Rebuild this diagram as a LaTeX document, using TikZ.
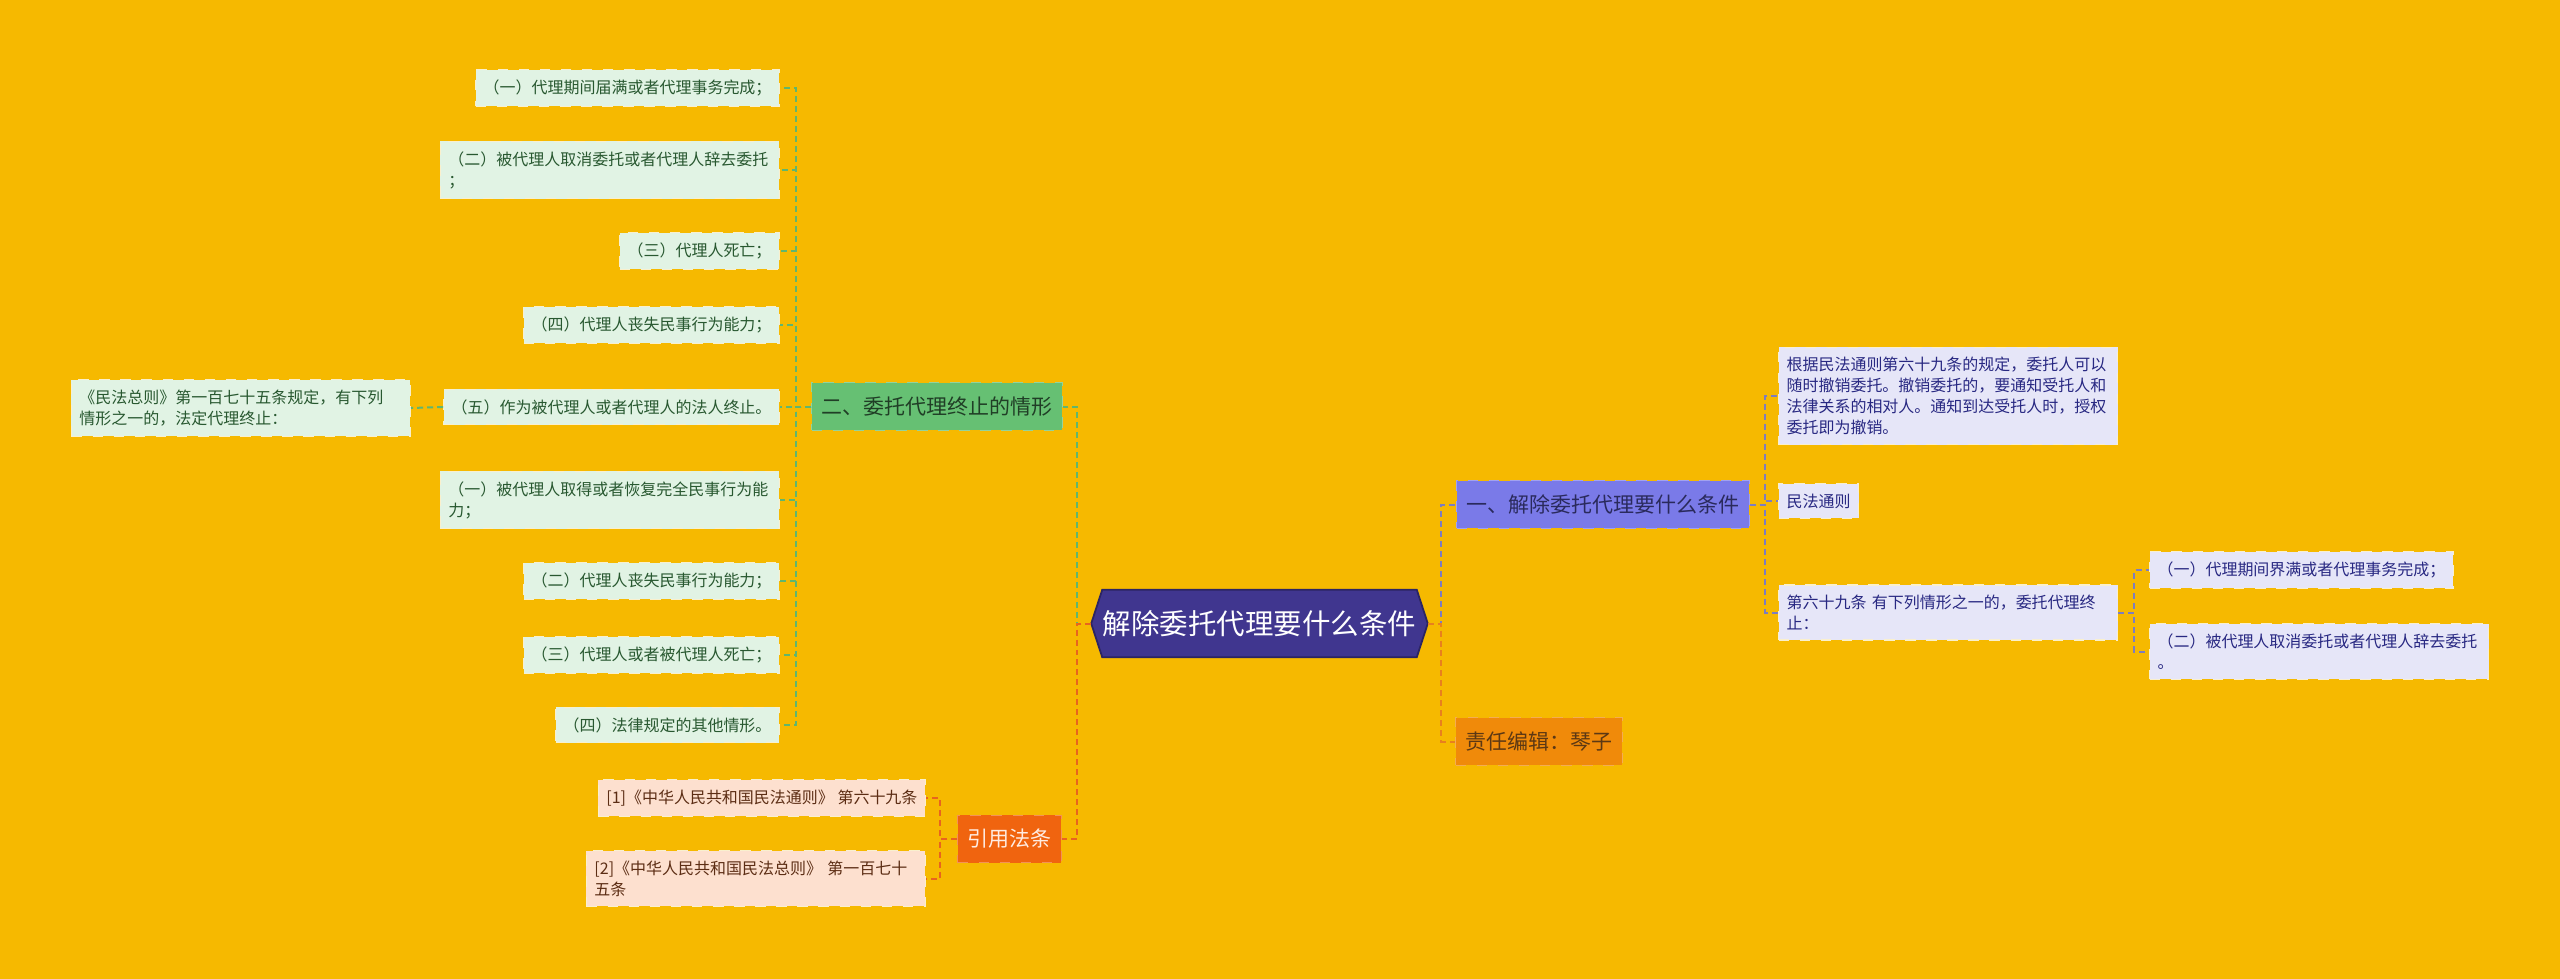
\documentclass[tikz,border=0pt]{standalone}
\usepackage{fontspec}
\setmainfont{Noto Sans CJK SC}
\usetikzlibrary{backgrounds}
\definecolor{bgyellow}{RGB}{246,185,0}
\definecolor{rootfill}{RGB}{64,54,143}
\definecolor{rootline}{RGB}{44,37,98}
\definecolor{grnfill}{RGB}{102,192,115}
\definecolor{grntext}{RGB}{32,62,38}
\definecolor{grnleaf}{RGB}{225,243,228}
\definecolor{grnleaftext}{RGB}{40,88,48}
\definecolor{grnline}{RGB}{95,182,110}
\definecolor{blufill}{RGB}{122,122,232}
\definecolor{blutext}{RGB}{42,42,92}
\definecolor{bluleaf}{RGB}{230,230,248}
\definecolor{bluleaftext}{RGB}{40,40,130}
\definecolor{bluline}{RGB}{125,125,192}
\definecolor{redfill}{RGB}{240,100,15}
\definecolor{redtext}{RGB}{255,236,226}
\definecolor{peachleaf}{RGB}{253,224,207}
\definecolor{peachtext}{RGB}{92,45,20}
\definecolor{redline}{RGB}{232,100,30}
\definecolor{orgfill}{RGB}{240,138,10}
\definecolor{orgtext}{RGB}{92,56,20}
\definecolor{orgline}{RGB}{232,128,30}
\definecolor{leafedge}{RGB}{250,240,205}
\begin{document}
\begin{tikzpicture}[
          conn/.style={line width=0.02cm, dash pattern=on 0.06cm off 0.04cm},
          rootbox/.style={inner sep=0pt, minimum width=3.13cm, minimum height=0.66cm, text=white,
            font=\fontsize{8.1}{10}\selectfont},
          leaf/.style={draw=leafedge, dashed, line width=0.3pt, inner xsep=0.08cm, inner ysep=0.1cm,
            font=\fontsize{4.55}{5.97}\selectfont, align=left},
          wide/.style={text width=3.23cm},
          branch/.style={draw, dashed, line width=0.3pt, inner xsep=0.1cm, inner ysep=0.14cm,
            font=\fontsize{5.97}{7}\selectfont},
          gleaf/.style={leaf, fill=grnleaf, text=grnleaftext, anchor=east},
          bleaf/.style={leaf, fill=bluleaf, text=bluleaftext, anchor=west},
          pleaf/.style={leaf, fill=peachleaf, text=peachtext, anchor=east}]
        \node[rootbox] (root) at (12.595,-6.235) {解除委托代理要什么条件};
        \begin{scope}[on background layer]
          \fill[bgyellow] (0,0) rectangle (25.6,-9.79);
          \draw[fill=rootfill, draw=rootline, line width=0.5pt] (root.north west) -- (root.north east)
            -- ([xshift=0.11cm]root.east) -- (root.south east) -- (root.south west)
            -- ([xshift=-0.11cm]root.west) -- cycle;
        \end{scope}
        \useasboundingbox (0,0) rectangle (25.6,-9.79);
        \node[branch, fill=blufill, draw=blufill!70!white, text=blutext, anchor=west] (cond) at (14.56,-5.045) {一、解除委托代理要什么条件};
        \node[branch, fill=grnfill, draw=grnfill!70!white, text=grntext, anchor=east] (term) at (10.63,-4.065) {二、委托代理终止的情形};
        \node[branch, fill=redfill, draw=redfill!70!white, text=redtext, anchor=east] (cite) at (10.62,-8.39) {引用法条};
        \node[branch, fill=orgfill, draw=orgfill!70!white, text=orgtext, anchor=west] (editor) at (14.55,-7.415) {责任编辑：琴子};
        \node[gleaf] (ta) at (7.80,-0.88) {（一）代理期间届满或者代理事务完成；};
        \node[gleaf, wide] (tb) at (7.80,-1.70) {（二）被代理人取消委托或者代理人辞去委托\\；};
        \node[gleaf] (tc) at (7.80,-2.51) {（三）代理人死亡；};
        \node[gleaf] (td) at (7.80,-3.25) {（四）代理人丧失民事行为能力；};
        \node[gleaf] (te) at (7.80,-4.07) {（五）作为被代理人或者代理人的法人终止。};
        \node[gleaf, wide] (tlaw) at (4.11,-4.08) {《民法总则》第一百七十五条规定，有下列\\情形之一的，法定代理终止：};
        \node[gleaf, wide] (tf) at (7.80,-5.00) {（一）被代理人取得或者恢复完全民事行为能\\力；};
        \node[gleaf] (tg) at (7.80,-5.81) {（二）代理人丧失民事行为能力；};
        \node[gleaf] (th) at (7.80,-6.55) {（三）代理人或者被代理人死亡；};
        \node[gleaf] (ti) at (7.80,-7.25) {（四）法律规定的其他情形。};
        \node[pleaf] (ca) at (9.26,-7.98) {[1]《中华人民共和国民法通则》 第六十九条};
        \node[pleaf, wide] (cb) at (9.26,-8.785) {[2]《中华人民共和国民法总则》 第一百七十\\五条};
        \node[bleaf, wide] (ua) at (17.78,-3.96) {根据民法通则第六十九条的规定，委托人可以\\随时撤销委托。撤销委托的，要通知受托人和\\法律关系的相对人。通知到达受托人时，授权\\委托即为撤销。};
        \node[bleaf] (ub) at (17.78,-5.01) {民法通则};
        \node[bleaf, wide] (uc) at (17.78,-6.125) {第六十九条 有下列情形之一的，委托代理终\\止：};
        \node[bleaf] (ud) at (21.49,-5.70) {（一）代理期间界满或者代理事务完成；};
        \node[bleaf, wide] (ue) at (21.49,-6.515) {（二）被代理人取消委托或者代理人辞去委托\\。};
        \draw[conn, grnline] ([xshift=-0.11cm]root.west) -- ++(-0.14,0) |- (term.east);
        \draw[conn, redline] ([xshift=-0.11cm]root.west) -- ++(-0.14,0) |- (cite.east);
        \draw[conn, bluline] ([xshift=0.11cm]root.east) -- ++(0.13,0) |- (cond.west);
        \draw[conn, orgline] ([xshift=0.11cm]root.east) -- ++(0.13,0) |- (editor.west);
        \draw[conn, grnline] (term.west) -- ++(-0.15,0) |- (ta.east);
        \draw[conn, grnline] (term.west) -- ++(-0.15,0) |- (tb.east);
        \draw[conn, grnline] (term.west) -- ++(-0.15,0) |- (tc.east);
        \draw[conn, grnline] (term.west) -- ++(-0.15,0) |- (td.east);
        \draw[conn, grnline] (term.west) -- ++(-0.15,0) |- (te.east);
        \draw[conn, grnline] (term.west) -- ++(-0.15,0) |- (tf.east);
        \draw[conn, grnline] (term.west) -- ++(-0.15,0) |- (tg.east);
        \draw[conn, grnline] (term.west) -- ++(-0.15,0) |- (th.east);
        \draw[conn, grnline] (term.west) -- ++(-0.15,0) |- (ti.east);
        \draw[conn, grnline] (te.west) -- (tlaw.east);
        \draw[conn, redline] (cite.west) -- ++(-0.17,0) |- (ca.east);
        \draw[conn, redline] (cite.west) -- ++(-0.17,0) |- (cb.east);
        \draw[conn, bluline] (cond.east) -- ++(0.15,0) |- (ua.west);
        \draw[conn, bluline] (cond.east) -- ++(0.15,0) |- (ub.west);
        \draw[conn, bluline] (cond.east) -- ++(0.15,0) |- (uc.west);
        \draw[conn, bluline] (uc.east) -- ++(0.16,0) |- (ud.west);
        \draw[conn, bluline] (uc.east) -- ++(0.16,0) |- (ue.west);
      \end{tikzpicture}
\end{document}
